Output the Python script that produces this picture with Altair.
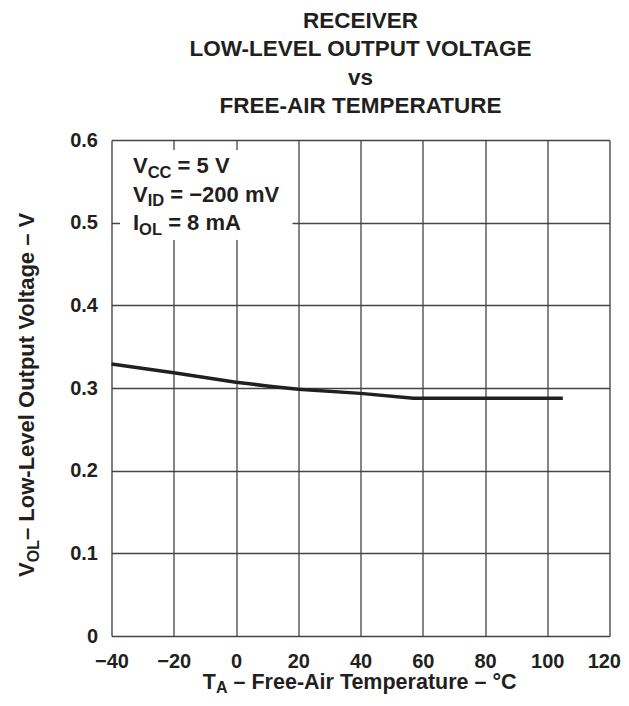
import altair as alt
import pandas as pd

# ---- data ----
temps = [-40, -20, 0, 10, 20, 40, 57, 105]
vol = [0.329, 0.3185, 0.307, 0.3025, 0.2985, 0.2935, 0.2875, 0.2875]
x_ticks = [-40, -20, 0, 20, 40, 60, 80, 100, 120]
y_ticks = [0, 0.1, 0.2, 0.3, 0.4, 0.5, 0.6]
title_lines = ["RECEIVER", "LOW-LEVEL OUTPUT VOLTAGE", "vs", "FREE-AIR TEMPERATURE"]
cond_lines = [("V", "CC", " = 5 V"), ("V", "ID", " = \u2212200 mV"), ("I", "OL", " = 8 mA")]
x_title = ("T", "A", " \u2013 Free-Air Temperature \u2013 \u00b0C")
y_title = ("V", "OL", "\u2013 Low-Level Output Voltage \u2013 V")

FONT = "Liberation Sans"
INK = "#231f20"
PW, PH = 498, 496

# Arial/Liberation Sans Bold advance widths (per 1000 em)
AW = {' ': 278, '-': 333, '=': 584, '\u2212': 584, '\u2013': 556, '\u00b0': 400,
      'A': 722, 'C': 722, 'D': 722, 'I': 278, 'L': 611, 'O': 778, 'V': 667, 'T': 611, 'F': 611,
      'a': 556, 'e': 556, 'g': 611, 'i': 278, 'l': 278, 'm': 889, 'o': 611, 'p': 611, 'r': 389,
      't': 333, 'u': 611, 'v': 556, 'w': 778}
for d in "0123456789":
    AW[d] = 556


def tw(s, size):
    return sum(AW.get(c, 556) for c in s) * size / 1000.0


one = pd.DataFrame({"k": [0]})


def txt(s, x, y, size, align="left", angle=0):
    return alt.Chart(one).mark_text(
        text=s, font=FONT, fontWeight="bold", fontSize=size, align=align,
        baseline="alphabetic", angle=angle, color=INK
    ).encode(x=alt.value(x), y=alt.value(y))


def lead(s, size):
    """width of leading spaces (SVG collapses them) and the stripped text"""
    n = len(s) - len(s.lstrip(" "))
    return n * AW[' '] * size / 1000.0, s.lstrip(" ")


df = pd.DataFrame({"t": temps, "v": vol})

axis_common = dict(grid=True, ticks=False, domain=False, title=None,
                   labelFont=FONT, labelFontWeight="bold", labelFontSize=20,
                   labelColor=INK, gridColor="#444444", gridWidth=1.3, labelFlush=False)

last_x = x_ticks[-1]
line = alt.Chart(df).mark_line(color=INK, strokeWidth=3.5).encode(
    x=alt.X("t:Q", scale=alt.Scale(domain=[-40, 120], nice=False),
            axis=alt.Axis(values=x_ticks, labelPadding=15,
                          labelAlign={"condition": {"test": f"datum.value == {last_x}", "value": "right"},
                                      "value": "center"},
                          labelOffset={"condition": {"test": f"datum.value == {last_x}", "value": 11},
                                       "value": 0},
                          **axis_common)),
    y=alt.Y("v:Q", scale=alt.Scale(domain=[0, 0.6], nice=False),
            axis=alt.Axis(values=y_ticks, labelPadding=14,
                          labelExpr="datum.value == 0 ? '0' : format(datum.value, '.1f')",
                          **axis_common)),
)

# white box behind the conditions
box = alt.Chart(one).mark_rect(color="white").encode(
    x=alt.value(8.5), x2=alt.value(181), y=alt.value(10), y2=alt.value(100)
)

layers = [box, line]

# title
for i, s in enumerate(title_lines):
    layers.append(txt(s, PW / 2, -112 + 28.3 * i, 22.5, align="center"))

# conditions
MS, SS = 22, 16.5
for i, (a, b, c) in enumerate(cond_lines):
    y0 = 33 + 28.5 * i
    x0 = 21.5
    layers.append(txt(a, x0, y0, MS))
    x1 = x0 + tw(a, MS)
    layers.append(txt(b, x1, y0 + 4.5, SS))
    x2 = x1 + tw(b, SS)
    off, cs = lead(c, MS)
    layers.append(txt(cs, x2 + off, y0, MS))

# x title
TS, TSS = 21.5, 16
a, b, c = x_title
total = tw(a, TS) + tw(b, TSS) + tw(c, TS)
xs = PW / 2 - total / 2
XB = 548.5
layers.append(txt(a, xs, XB, TS))
layers.append(txt(b, xs + tw(a, TS), XB + 4, TSS))
off, cs = lead(c, TS)
layers.append(txt(cs, xs + tw(a, TS) + tw(b, TSS) + off, XB, TS))

# y title (rotated)
YS, YSS = 22, 16
a, b, c = y_title
total = tw(a, YS) + tw(b, YSS) + tw(c, YS)
ys = 254 + total / 2
bx = -77.5
layers.append(txt(a, bx, ys, YS, angle=270))
layers.append(txt(b, bx + 4.5, ys - tw(a, YS), YSS, angle=270))
layers.append(txt(c, bx, ys - tw(a, YS) - tw(b, YSS), YS, angle=270))

chart = alt.layer(*layers).properties(
    width=PW, height=PH,
    autosize=alt.AutoSizeParams(type="none"),
    padding={"left": 103.5, "top": 132, "right": 11.5, "bottom": 60},
).configure_view(stroke=INK, strokeWidth=2.5).configure(background="white")

chart.save("out.html", embed_options={"renderer": "svg", "actions": False})
